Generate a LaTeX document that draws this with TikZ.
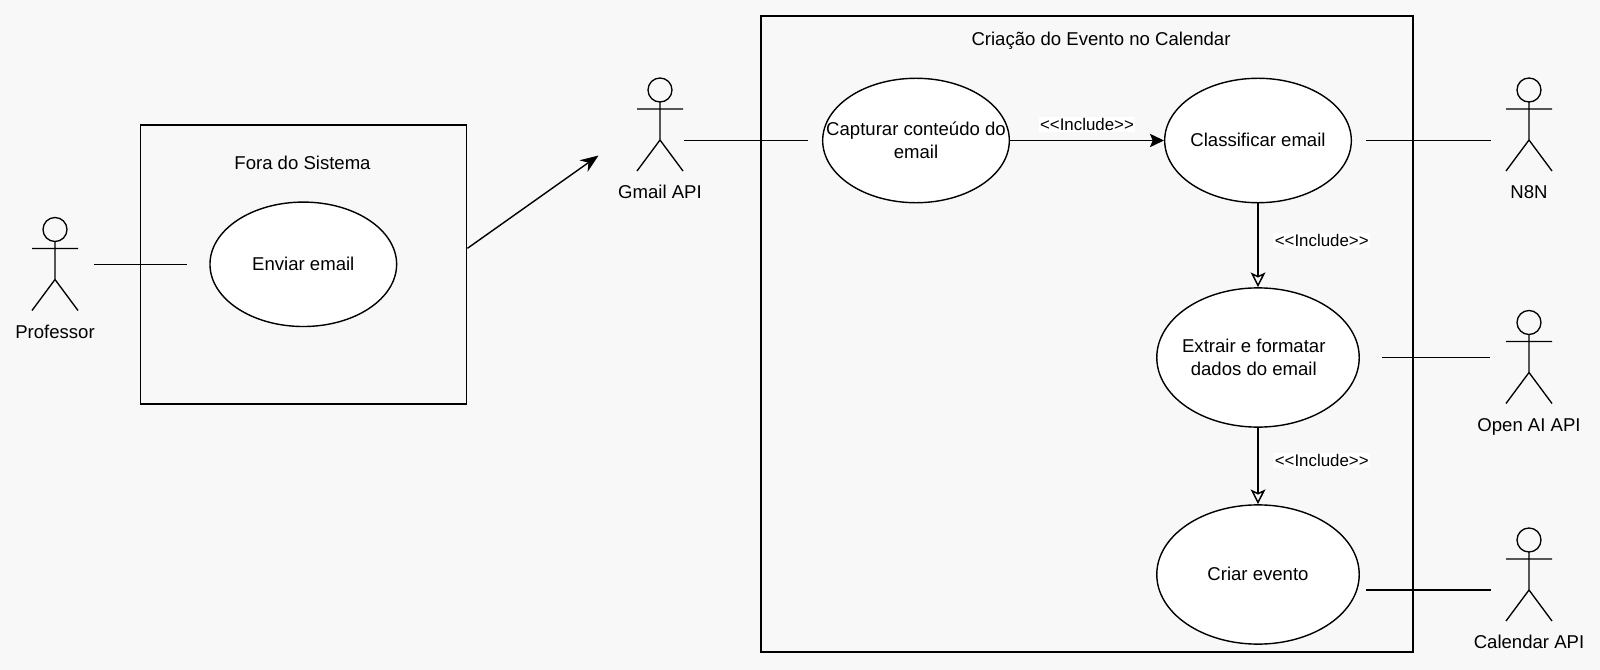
\documentclass[tikz,border=0pt]{standalone}
\usepackage{fontspec}
\setmainfont{Liberation Sans}
\usetikzlibrary{shapes.geometric,arrows.meta}
\definecolor{pagebg}{HTML}{F8F8F8}
\tikzset{
  sysbox/.style={draw, line width=1.3pt},
  usecase/.style={draw, ellipse, fill=white, line width=1pt, inner sep=-20pt, align=center, minimum width=4.665cm, minimum height=3.11cm},
  biguse/.style={usecase, minimum width=5.06cm, minimum height=3.48cm},
  lbl/.style={inner sep=0pt, align=center},
  incl/.style={fill=white, inner sep=1pt, font=\fontsize{12}{14}\selectfont},
  link/.style={line width=1pt},
  incarrow/.style={line width=1.05pt, -{Stealth[open,length=10.5pt,width=10.5pt,inset=2.5pt]}},
  actor/.pic={
    \draw[line width=0.95pt] (0,12) circle (12);
    \draw[line width=0.95pt] (0,24) -- (0,62) (-23,31) -- (23,31) (-23,93) -- (0,62) -- (23,93);
  }
}
\begin{document}
\begin{tikzpicture}[x=0.025cm, y=-0.025cm, >=Stealth, font=\fontsize{13.2}{16}\selectfont]
  \fill[pagebg] (0,0) rectangle (1600,670);
  % left part
  \node[sysbox, minimum width=8.15cm, minimum height=6.98cm] (outside) at (303.5,264.3) {};
  \node[lbl] (outsidetitle) at (302.5,163) {Fora do Sistema};
  \node[usecase] (send) at (303.3,264.3) {Enviar email};
  \pic at (55,217.5) {actor};
  \node[lbl] (professor) at (55,331.7) {Professor};
  \coordinate (profhand) at (94,264.5);
  \coordinate (sendleft) at (186.6,264.5);
  \draw[link] (profhand) -- (sendleft);
  \coordinate (arrowtip) at (598.5,155.5);
  \draw[link, ->, >={Stealth[length=13pt,width=10pt]}] (outside.east |- 0,248.3) -- (arrowtip);
  % calendar part
  \node[sysbox, minimum width=16.3cm, minimum height=15.9cm] (system) at (1087,334) {};
  \node[lbl] (systemtitle) at (1101,40.5) {Criação do Evento no Calendar};
  \node[usecase] (capture) at (916,140.5) {Capturar conteúdo do\\email};
  \node[usecase] (classify) at (1258,140.5) {\raisebox{1pt}{Classificar email}};
  \node[biguse] (extract) at (1258,357.5) {\hspace*{-6pt}Extrair e formatar\\\hspace*{-6pt}dados do email};
  \node[biguse] (create) at (1258,574.5) {\raisebox{1pt}{Criar evento}};
  \draw[link, ->, >={Stealth[length=10pt,width=9.5pt,inset=2pt]}] (capture) -- (classify);
  \draw[incarrow] (classify) -- (extract);
  \draw[incarrow] (extract) -- (create);
  \node[incl] (inclone) at (1087,124.7) {<{}<Include>{}>};
  \node[incl] (incltwo) at (1321.7,240.7) {<{}<Include>{}>};
  \node[incl] (inclthree) at (1321.7,460.7) {<{}<Include>{}>};
  % actors
  \pic at (660,78) {actor};
  \node[lbl] (gmail) at (660,192.2) {Gmail API};
  \coordinate (gmailhand) at (683.8,140.5);
  \coordinate (captureleft) at (807.8,140.5);
  \draw[link] (gmailhand) -- (captureleft);
  \pic at (1529,78) {actor};
  \node[lbl] (neun) at (1529,192.2) {N8N};
  \coordinate (classifyright) at (1366,140.5);
  \coordinate (neunhand) at (1491,140.5);
  \draw[link] (classifyright) -- (neunhand);
  \pic at (1529,310.5) {actor};
  \node[lbl] (openai) at (1529,426.5) {Open AI API};
  \coordinate (extractright) at (1382,357.5);
  \coordinate (openaihand) at (1490.3,357.5);
  \draw[link] (extractright) -- (openaihand);
  \pic at (1529,528) {actor};
  \node[lbl] (calendar) at (1529,641.8) {Calendar API};
  \coordinate (createright) at (1366,590);
  \coordinate (calendarhand) at (1491,590);
  \draw[link] (createright) -- (calendarhand);
\end{tikzpicture}
\end{document}
